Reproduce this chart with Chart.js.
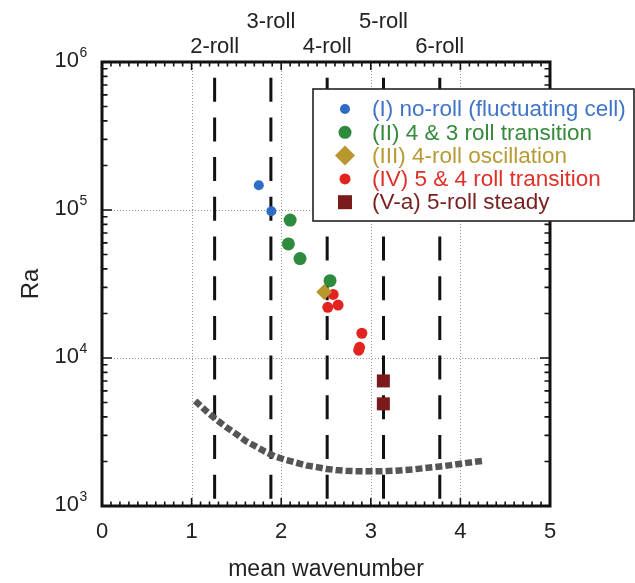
<!DOCTYPE html>
<html>
<head>
<meta charset="utf-8">
<title>Ra vs mean wavenumber</title>
<script src="https://cdn.jsdelivr.net/npm/chart.js"></script>
<style>
  body { margin: 0; background: #fff; }
  canvas { display: block; }
</style>
</head>
<body>
<canvas id="chRa" width="635" height="583"></canvas>
<script>
var FONT = "'Liberation Sans', Arial, Helvetica, sans-serif";

// tick labels
var xTicks = [0, 1, 2, 3, 4, 5];
var yDecades = [3, 4, 5, 6];

// n-roll wavenumbers (dashed lines)
var rollLabels = ['2-roll', '3-roll', '4-roll', '5-roll', '6-roll'];
var rollK = [1.257, 1.885, 2.513, 3.142, 3.770];

// (I) no-roll (fluctuating cell)
var noRollX = [1.75, 1.89];
var noRollY = [147000, 98000];
// (II) 4 & 3 roll transition
var trans43X = [2.10, 2.08, 2.21, 2.545];
var trans43Y = [85500, 59000, 47000, 33300];
// (III) 4-roll oscillation
var oscX = [2.48];
var oscY = [27900];
// (IV) 5 & 4 roll transition
var trans54X = [2.58, 2.52, 2.635, 2.90, 2.865, 2.875];
var trans54Y = [26900, 22000, 22800, 14700, 11300, 11800];
// (V-a) 5-roll steady
var steadyX = [3.14, 3.14];
var steadyY = [7000, 4900];

// critical curve
var curveX = [1.04, 1.15, 1.27, 1.39, 1.50, 1.60, 1.72, 1.82, 1.94, 2.05, 2.17, 2.28, 2.40, 2.51, 2.61,
              2.72, 2.82, 2.94, 3.05, 3.16, 3.27, 3.37, 3.48, 3.59, 3.70, 3.81, 3.92, 4.03, 4.14, 4.26];
var curveY = [5140, 4460, 3860, 3400, 3060, 2760, 2520, 2330, 2150, 2050, 1960, 1880, 1830, 1780, 1750,
              1730, 1720, 1715, 1715, 1720, 1730, 1750, 1770, 1800, 1830, 1860, 1900, 1940, 1980, 2020];

function pts(xs, ys) {
  return xs.map(function (x, i) { return {x: x, y: ys[i]}; });
}

var series = [
  {label: '(I) no-roll (fluctuating cell)', data: pts(noRollX, noRollY), color: '#2f6cc6', text: '#3f74c8', style: 'circle', r: 5, lr: 5},
  {label: '(II) 4 & 3 roll transition', data: pts(trans43X, trans43Y), color: '#2e8a3c', text: '#378a3c', style: 'circle', r: 6.5, lr: 6.5},
  {label: '(III) 4-roll oscillation', data: pts(oscX, oscY), color: '#b8972f', text: '#b89a35', style: 'rectRot', r: 8, lr: 10},
  {label: '(IV) 5 & 4 roll transition', data: pts(trans54X, trans54Y), color: '#e3231f', text: '#e0302a', style: 'circle', r: 5.5, lr: 5.5},
  {label: '(V-a) 5-roll steady', data: pts(steadyX, steadyY), color: '#7b1a1a', text: '#7a2222', style: 'rect', r: 9.2, lr: 10}
];

var datasets = series.map(function (s) {
  return {
    type: 'scatter',
    label: s.label,
    data: s.data,
    pointStyle: s.style,
    pointRadius: s.r,
    pointBackgroundColor: s.color,
    pointBorderWidth: 0
  };
});

datasets.push({
  type: 'line',
  label: 'critical',
  data: pts(curveX, curveY),
  showLine: true,
  borderColor: '#555555',
  borderWidth: 6.5,
  borderDash: [7, 3],
  pointRadius: 0,
  tension: 0
});

rollK.forEach(function (k) {
  datasets.push({
    type: 'line',
    label: 'roll',
    data: [{x: k, y: 1e6}, {x: k, y: 1e3}],
    showLine: true,
    borderColor: '#111111',
    borderWidth: 3,
    borderDash: [24, 15.7],
    borderDashOffset: 24,
    pointRadius: 0
  });
});

// dotted grid, ticks pointing inward, frame
var framePlugin = {
  id: 'frame',
  beforeDatasetsDraw: function (chart) {
    var ctx = chart.ctx, a = chart.chartArea;
    var xs = chart.scales.x, ys = chart.scales.y;
    ctx.save();
    ctx.strokeStyle = '#9a9a9a';
    ctx.lineWidth = 1;
    ctx.setLineDash([1, 2]);
    xTicks.slice(1, -1).forEach(function (v) {
      var px = Math.round(xs.getPixelForValue(v)) + 0.5;
      ctx.beginPath(); ctx.moveTo(px, a.top); ctx.lineTo(px, a.bottom); ctx.stroke();
    });
    yDecades.slice(1, -1).forEach(function (d) {
      var py = Math.round(ys.getPixelForValue(Math.pow(10, d))) + 0.5;
      ctx.beginPath(); ctx.moveTo(a.left, py); ctx.lineTo(a.right, py); ctx.stroke();
    });
    ctx.restore();
  },
  afterDatasetsDraw: function (chart) {
    var ctx = chart.ctx, a = chart.chartArea;
    var xs = chart.scales.x, ys = chart.scales.y;
    ctx.save();
    ctx.strokeStyle = '#111';
    ctx.lineWidth = 1.6;
    ctx.beginPath();
    for (var i = 0; i <= 50; i++) {
      var px = xs.getPixelForValue(i / 10);
      var len = (i % 10 === 0) ? 8 : 4.5;
      ctx.moveTo(px, a.bottom); ctx.lineTo(px, a.bottom - len);
      ctx.moveTo(px, a.top); ctx.lineTo(px, a.top + len);
    }
    for (var d = 3; d < 6; d++) {
      for (var m = 1; m <= 10; m++) {
        var py = ys.getPixelForValue(m * Math.pow(10, d));
        var ln = (m === 1 || m === 10) ? 10 : 5.5;
        ctx.moveTo(a.left, py); ctx.lineTo(a.left + ln, py);
        ctx.moveTo(a.right, py); ctx.lineTo(a.right - ln, py);
      }
    }
    ctx.stroke();
    ctx.lineWidth = 3;
    ctx.strokeRect(a.left, a.top, a.right - a.left, a.bottom - a.top);
    ctx.restore();
  },
  afterDraw: function (chart) {
    var ctx = chart.ctx, a = chart.chartArea;
    var xs = chart.scales.x, ys = chart.scales.y;
    ctx.save();
    ctx.fillStyle = '#222';
    // y tick labels 10^n
    yDecades.forEach(function (d) {
      var py = ys.getPixelForValue(Math.pow(10, d));
      ctx.font = '22px ' + FONT;
      ctx.textAlign = 'right';
      ctx.textBaseline = 'middle';
      ctx.fillText('10', 79, py - 1);
      ctx.font = '14px ' + FONT;
      ctx.textAlign = 'left';
      ctx.fillText(String(d), 79.5, py - 9);
    });
    // roll labels above the frame
    ctx.font = '22px ' + FONT;
    ctx.textAlign = 'center';
    ctx.textBaseline = 'middle';
    rollK.forEach(function (k, i) {
      var px = xs.getPixelForValue(k);
      ctx.fillText(rollLabels[i], px, i % 2 === 0 ? 47 : 22);
    });
    ctx.restore();
  }
};

// legend box that sits over the upper right corner
var legendPlugin = {
  id: 'boxLegend',
  afterDraw: function (chart) {
    var ctx = chart.ctx;
    var left = 313, top = 89, right = 634, bottom = 221;
    ctx.save();
    ctx.fillStyle = '#fff';
    ctx.fillRect(left, top, right - left, bottom - top);
    ctx.strokeStyle = '#222';
    ctx.lineWidth = 1.6;
    ctx.strokeRect(left, top, right - left, bottom - top);
    ctx.font = '22.5px ' + FONT;
    ctx.textAlign = 'left';
    ctx.textBaseline = 'middle';
    series.forEach(function (s, i) {
      var cy = top + 20 + i * 23.3;
      var cx = 345;
      ctx.fillStyle = s.color;
      ctx.beginPath();
      if (s.style === 'circle') {
        ctx.arc(cx, cy, s.lr, 0, Math.PI * 2);
      } else if (s.style === 'rectRot') {
        ctx.moveTo(cx - s.lr, cy); ctx.lineTo(cx, cy - s.lr);
        ctx.lineTo(cx + s.lr, cy); ctx.lineTo(cx, cy + s.lr); ctx.closePath();
      } else {
        ctx.rect(cx - 7, cy - 7, 14, 14);
      }
      ctx.fill();
      ctx.fillStyle = s.text;
      ctx.fillText(s.label, 372, cy + 1);
    });
    ctx.restore();
  }
};

var chRa = document.getElementById('chRa');
if (chRa) {
  new Chart(chRa, {
    type: 'scatter',
    data: {datasets: datasets},
    plugins: [framePlugin, legendPlugin],
    options: {
      responsive: false,
      animation: false,
      layout: {padding: {top: 62, right: 85, left: 0, bottom: 0}},
      plugins: {legend: {display: false}, tooltip: {enabled: false}},
      scales: {
        x: {
          type: 'linear',
          min: 0,
          max: 5,
          afterFit: function (s) { s.height = 77; },
          afterBuildTicks: function (s) { s.ticks = xTicks.map(function (v) { return {value: v}; }); },
          ticks: {color: '#222', font: {size: 22, family: FONT}, padding: 13, maxRotation: 0},
          grid: {display: false, drawTicks: false},
          border: {display: false},
          title: {display: true, text: 'mean wavenumber', color: '#222', font: {size: 23, family: FONT}, padding: {top: 0, bottom: 0}}
        },
        y: {
          type: 'logarithmic',
          min: 1000,
          max: 1000000,
          afterFit: function (s) { s.width = 102; },
          ticks: {display: false},
          grid: {display: false, drawTicks: false},
          border: {display: false},
          title: {display: true, text: 'Ra', color: '#222', font: {size: 24, family: FONT}, padding: {top: 17, bottom: 0}}
        }
      }
    }
  });
}
</script>
</body>
</html>
